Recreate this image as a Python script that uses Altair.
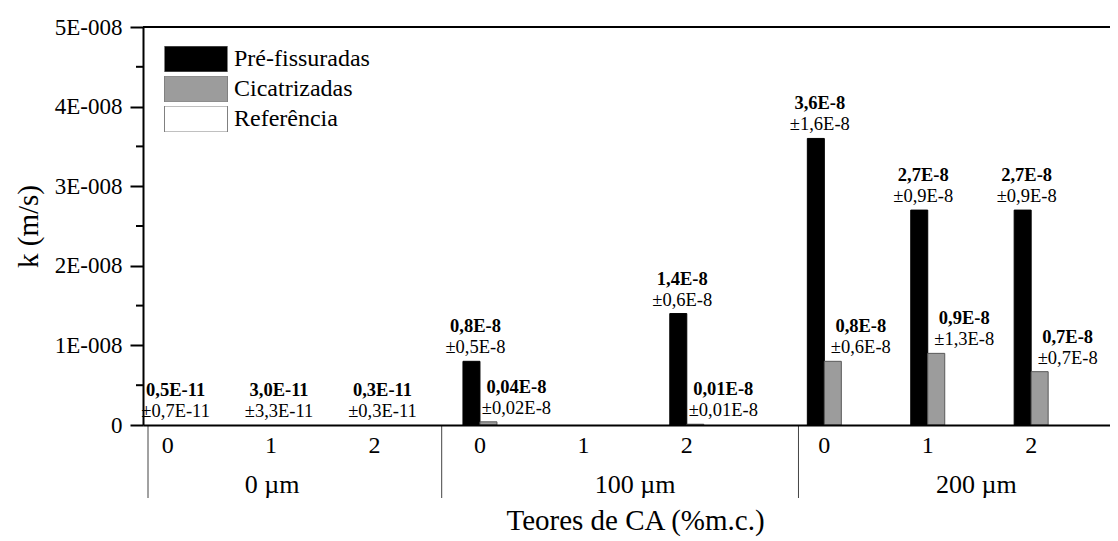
import altair as alt
import pandas as pd

# ---------------- data ----------------
groups = ["0 µm", "100 µm", "200 µm"]
levels = ["0", "1", "2"]
series_names = ["Pré-fissuradas", "Cicatrizadas", "Referência"]

pre_fissuradas = [None, None, None, 0.8e-8, None, 1.4e-8, 3.6e-8, 2.7e-8, 2.7e-8]
cicatrizadas = [None, None, None, 0.04e-8, None, 0.01e-8, 0.8e-8, 0.9e-8, 0.67e-8]
referencia = [0.5e-11, 3.0e-11, 0.3e-11, None, None, None, None, None, None]

pre_mean_lbl = ["", "", "", "0,8E-8", "", "1,4E-8", "3,6E-8", "2,7E-8", "2,7E-8"]
pre_sd_lbl = ["", "", "", "±0,5E-8", "", "±0,6E-8", "±1,6E-8", "±0,9E-8", "±0,9E-8"]
cic_mean_lbl = ["", "", "", "0,04E-8", "", "0,01E-8", "0,8E-8", "0,9E-8", "0,7E-8"]
cic_sd_lbl = ["", "", "", "±0,02E-8", "", "±0,01E-8", "±0,6E-8", "±1,3E-8", "±0,7E-8"]
ref_mean_lbl = ["0,5E-11", "3,0E-11", "0,3E-11", "", "", "", "", "", ""]
ref_sd_lbl = ["±0,7E-11", "±3,3E-11", "±0,3E-11", "", "", "", "", "", ""]

y_major = [0, 1e-8, 2e-8, 3e-8, 4e-8, 5e-8]
y_minor = [0.5e-8, 1.5e-8, 2.5e-8, 3.5e-8, 4.5e-8]

# ---------------- layout ----------------
group_start = [0.0, 3.02, 6.35]          # x-position of level 0 in each group
divider_pos = [-0.19, 2.65, 6.10]
group_label_pos = [1.01, 4.52, 7.82]
X_DOMAIN = [-0.19, 9.064]
W, H = 967, 398
FONT = '"Liberation Serif", "Times New Roman", Times, serif'
BLACK, GRAY, WHITE = "#000000", "#9c9c9c", "#ffffff"

slots = []
for gi, g in enumerate(groups):
    for li, lv in enumerate(levels):
        slots.append({"group": g, "level": lv, "pos": group_start[gi] + li})

rows = []
for i, s in enumerate(slots):
    for name, vals, ml, sl in [
        (series_names[0], pre_fissuradas, pre_mean_lbl, pre_sd_lbl),
        (series_names[1], cicatrizadas, cic_mean_lbl, cic_sd_lbl),
        (series_names[2], referencia, ref_mean_lbl, ref_sd_lbl),
    ]:
        if vals[i] is not None:
            rows.append({**s, "series": name, "value": vals[i],
                         "mean": ml[i], "sd": sl[i]})
df = pd.DataFrame(rows)
slot_df = pd.DataFrame(slots)
grp_df = pd.DataFrame({"group": groups, "pos": group_label_pos})
div_df = pd.DataFrame({"pos": divider_pos})
minor_df = pd.DataFrame({"v": y_minor})
top_df = pd.DataFrame({"v": [5e-8]})

xscale = alt.Scale(domain=X_DOMAIN, nice=False, zero=False)
yscale = alt.Scale(domain=[0, 5e-8], nice=False)
cscale = alt.Scale(domain=series_names, range=[BLACK, GRAY, WHITE])

x_enc = alt.X("pos:Q", scale=xscale, axis=alt.Axis(
    labels=False, ticks=False, grid=False, domain=True, domainColor="black",
    domainWidth=2, title="Teores de CA (%m.c.)", titleFont=FONT,
    titleFontSize=29, titleFontWeight="normal", titleColor="black",
    titleX=492, titleY=104, titleBaseline="alphabetic", zindex=1))
y_enc = alt.Y("value:Q", scale=yscale, axis=alt.Axis(
    values=y_major, labelExpr="datum.value == 0 ? '0' : round(datum.value*1e8) + 'E-008'",
    labelFont=FONT, labelFontSize=23, labelColor="black", labelPadding=8,
    tickSize=13, tickWidth=2, tickColor="black", domainColor="black",
    domainWidth=2, grid=False, title="k (m/s)", titleFont=FONT,
    titleFontSize=29, titleFontWeight="normal", titleColor="black",
    titleX=-115, titleY=H / 2, titleBaseline="middle", zindex=1))

legend = alt.Legend(
    title=None, orient="none", legendX=21, legendY=19, direction="vertical",
    symbolType="M-1,-0.4127L1,-0.4127L1,0.4127L-1,0.4127Z", symbolSize=3969,
    symbolStrokeColor="#808080", symbolStrokeWidth=1, symbolOpacity=1,
    clipHeight=26, rowPadding=4, labelOffset=6, labelFont=FONT,
    labelFontSize=24, labelColor="black", labelLimit=400, padding=0,
    symbolOffset=0)

base = alt.Chart(df)

black_bars = base.transform_filter(alt.datum.series == series_names[0]).mark_bar(
    size=17, xOffset=-8.5, stroke=BLACK, strokeWidth=1).encode(
    x=x_enc, y=y_enc, color=alt.Color("series:N", scale=cscale, legend=legend))
gray_bars = base.transform_filter(alt.datum.series == series_names[1]).mark_bar(
    size=17, xOffset=8.5, stroke="#5a5a5a", strokeWidth=1).encode(
    x="pos:Q", y="value:Q", color=alt.Color("series:N", scale=cscale, legend=legend))

text_layers = []
for name, dx in [(series_names[0], -4.5), (series_names[1], 36.5), (series_names[2], 8)]:
    sub = base.transform_filter(alt.datum.series == name)
    text_layers.append(sub.mark_text(
        font=FONT, fontSize=18.5, fontWeight="bold", color="black", dx=dx,
        dy=-35, baseline="middle", align="center").encode(
        x="pos:Q", y="value:Q", text="mean:N"))
    text_layers.append(sub.mark_text(
        font=FONT, fontSize=18.5, color="black", dx=dx, dy=-14,
        baseline="middle", align="center").encode(
        x="pos:Q", y="value:Q", text="sd:N"))

tick_labels = alt.Chart(slot_df).mark_text(
    font=FONT, fontSize=24, color="black", baseline="alphabetic", align="center").encode(
    x="pos:Q", y=alt.value(H + 28), text="level:N")
group_labels = alt.Chart(grp_df).mark_text(
    font=FONT, fontSize=26, color="black", baseline="alphabetic", align="center").encode(
    x="pos:Q", y=alt.value(H + 68), text="group:N")
dividers = alt.Chart(div_df).mark_rule(color="#444444", strokeWidth=1).encode(
    x="pos:Q", y=alt.value(H), y2=alt.value(H + 73))
minor_ticks = alt.Chart(minor_df).mark_rule(color="black", strokeWidth=2).encode(
    y=alt.Y("v:Q"), x=alt.value(-7), x2=alt.value(0))
top_line = alt.Chart(top_df).mark_rule(color="black", strokeWidth=2).encode(
    y=alt.Y("v:Q"), x=alt.value(0), x2=alt.value(W))

chart = alt.layer(
    black_bars, gray_bars, *text_layers, tick_labels, group_labels,
    dividers, minor_ticks, top_line
).resolve_scale(x="shared", y="shared").properties(
    width=W, height=H,
    autosize=alt.AutoSizeParams(type="none"),
    padding={"left": 135, "top": 19, "right": 0, "bottom": 112},
).configure_view(stroke=None).configure(background="white")

chart.save("out.html", embed_options={"renderer": "svg", "actions": False})
